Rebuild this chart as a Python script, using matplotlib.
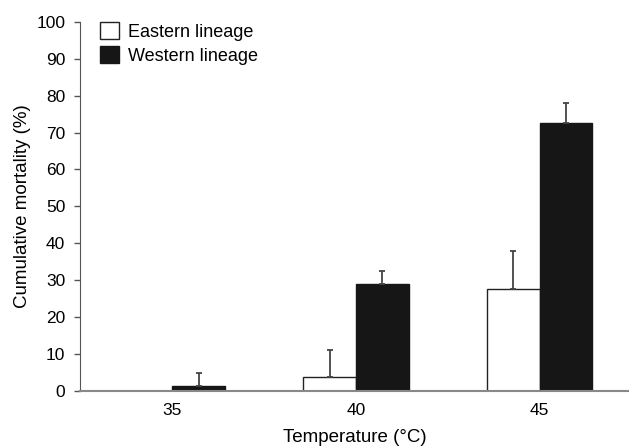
import numpy as np
import matplotlib
matplotlib.use("Agg")
import matplotlib.pyplot as plt

plt.rcParams['font.family'] = ['Liberation Sans', 'DejaVu Sans']

temps = ["35", "40", "45"]
eastern = [0.0, 3.8, 27.6]
eastern_err = [0.0, 7.1, 10.3]
western = [1.4, 28.9, 72.7]
western_err = [3.5, 3.5, 5.2]

x = np.arange(len(temps))
w = 0.287

fig = plt.figure(figsize=(6.29, 4.46), dpi=100)
ax = fig.add_axes([0.127, 0.124, 0.873, 0.827])

err_kw = dict(ecolor='#444444', elinewidth=1.3, capsize=2.5, capthick=1.3)
ax.bar(x - w/2, eastern, w, color='white', edgecolor='#222222', linewidth=1.0,
       yerr=[np.zeros(3), eastern_err], error_kw=err_kw, label='Eastern lineage')
ax.bar(x + w/2, western, w, color='#161616', edgecolor='#161616', linewidth=1.0,
       yerr=[np.zeros(3), western_err], error_kw=err_kw, label='Western lineage')

ax.set_xlim(-0.503, 2.487)
ax.set_ylim(0, 100)
ax.set_yticks(np.arange(0, 101, 10))
ax.set_xticks(x)
ax.set_xticklabels(temps)
ax.tick_params(axis='x', length=0, labelsize=12.5, pad=9)
ax.tick_params(axis='y', length=4, width=1, color='#555555', labelsize=12.5, pad=6.5)

for s in ['top', 'right']:
    ax.spines[s].set_visible(False)
ax.spines['left'].set_color('#555555')
ax.spines['bottom'].set_color('#888888')
ax.spines['bottom'].set_linewidth(1.5)

ax.set_xlabel('Temperature (°C)', fontsize=13.5, labelpad=8)
ax.set_ylabel('Cumulative mortality (%)', fontsize=13.5, labelpad=4)

ax.legend(loc='upper left', bbox_to_anchor=(0.036, 1.0), frameon=False, fontsize=13,
          handlelength=1.05, handleheight=1.1, handletextpad=0.5, labelspacing=0.3,
          borderaxespad=0, borderpad=0)

fig.savefig('out.png', dpi=100)
